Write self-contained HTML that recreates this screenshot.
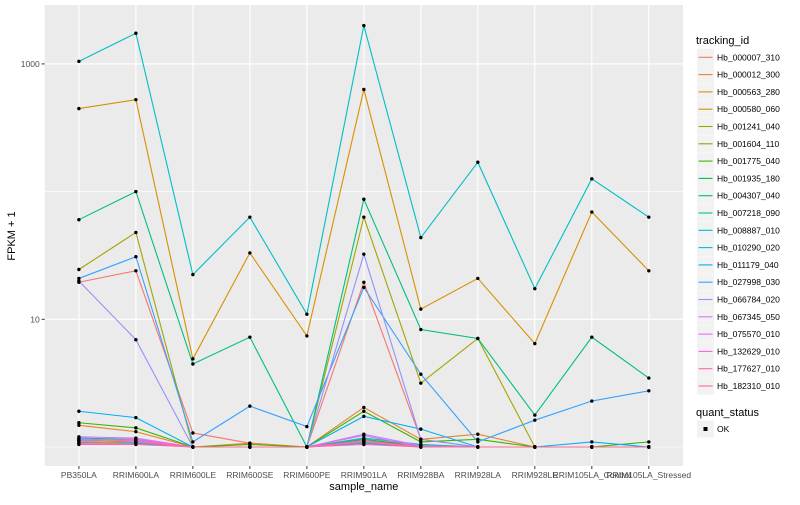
<!DOCTYPE html>
<html><head><meta charset="utf-8"><style>
body{margin:0;background:#fff;}
svg text{font-family:"Liberation Sans",sans-serif;}
</style></head><body>
<svg id="chart" width="800" height="500" xmlns="http://www.w3.org/2000/svg"></svg>
<script>
const categories=["PB350LA","RRIM600LA","RRIM600LE","RRIM600SE","RRIM600PE","RRIM901LA","RRIM928BA","RRIM928LA","RRIM928LE","RRIM105LA_Control","RRIM105LA_Stressed"];
const trackingIds=["Hb_000007_310","Hb_000012_300","Hb_000563_280","Hb_000580_060","Hb_001241_040","Hb_001604_110","Hb_001775_040","Hb_001935_180","Hb_004307_040","Hb_007218_090","Hb_008887_010","Hb_010290_020","Hb_011179_040","Hb_027998_030","Hb_066784_020","Hb_067345_050","Hb_075570_010","Hb_132629_010","Hb_177627_010","Hb_182310_010"];
const colors=["#F8766D","#EA8331","#D89000","#C09B00","#A3A500","#7CAE00","#39B600","#00BB4E","#00BF7D","#00C1A3","#00BFC4","#00BAE0","#00B0F6","#35A2FF","#9590FF","#C77CFF","#E76BF3","#FA62DB","#FF62BC","#FF6C91"];
// log10(FPKM+1) values per series
const s000007=[1.29,1.38,0.11,0.03,0,1.29,0.06,0,0,0,0];
const s000012=[0.17,0.12,0,0.03,0,0.31,0.06,0.10,0,0,0];
const s000563=[2.65,2.72,0.69,1.52,0.87,2.80,1.08,1.32,0.81,1.84,1.38];
const s000580=[0.05,0.04,0,0,0,0.05,0.01,0,0,0,0];
const s001241=[1.39,1.68,0,0,0,1.80,0.50,0.85,0,0,0];
const s001604=[0.03,0.03,0,0,0,0.04,0,0,0,0,0];
const s001775=[0.19,0.15,0,0.02,0,0.28,0.04,0.06,0,0,0.04];
const s001935=[0.06,0.05,0,0,0,0.06,0.01,0,0,0,0];
const s004307=[1.78,2.00,0.65,0.86,0,1.94,0.92,0.85,0.25,0.86,0.54];
const s007218=[0.07,0.06,0,0,0,0.07,0.02,0,0,0,0];
const s008887=[3.02,3.24,1.35,1.80,1.04,3.30,1.64,2.23,1.24,2.10,1.80];
const s010290=[0.04,0.03,0,0,0,0.03,0,0,0,0,0];
const s011179=[0.28,0.23,0,0,0,0.24,0.14,0,0,0.04,0];
const s027998=[1.32,1.49,0.04,0.32,0.16,1.25,0.57,0.04,0.21,0.36,0.44];
const s066784=[1.30,0.84,0,0,0,1.51,0.06,0,0,0,0];
const s067345=[0.08,0.07,0,0,0,0.10,0.01,0,0,0,0];
const s075570=[0.06,0.05,0,0,0,0.09,0,0,0,0,0];
const s132629=[0.05,0.06,0,0,0,0.05,0,0,0,0,0];
const s177627=[0.02,0.02,0,0,0,0.02,0,0,0,0,0];
const s182310=[0.03,0.04,0,0,0,0.04,0,0,0,0,0];
const series=[s000007,s000012,s000563,s000580,s001241,s001604,s001775,s001935,s004307,s007218,s008887,s010290,s011179,s027998,s066784,s067345,s075570,s132629,s177627,s182310];
const yTickVals=[1,3];
const yTickLabels=["10","1000"];
const yMinorVals=[0,2];

const NS="http://www.w3.org/2000/svg";
const svg=document.getElementById('chart');
const P={l:44.7,r:683,t:5,b:466};
const step=(P.r-P.l)/(categories.length-1+1.2);
function xS(i){return P.l+step*(0.6+i);}
function yS(v){return 447-v*127.7;}
function el(tag,attrs,parent){const e=document.createElementNS(NS,tag);for(const k in attrs)e.setAttribute(k,attrs[k]);(parent||svg).appendChild(e);return e;}

const panel=el('rect',{x:P.l,y:P.t,width:P.r-P.l,height:P.b-P.t,fill:'#EBEBEB'});


yMinorVals.forEach(v=>{const g=el('line',{x1:P.l,x2:P.r,y1:yS(v),y2:yS(v),stroke:'#fff','stroke-width':0.6});

});
yTickVals.forEach((v,i)=>{const g=el('line',{x1:P.l,x2:P.r,y1:yS(v),y2:yS(v),stroke:'#fff','stroke-width':1.1});


const tk=el('line',{x1:P.l-3,x2:P.l,y1:yS(v),y2:yS(v),stroke:'#333','stroke-width':1});


const t=el('text',{x:P.l-5,y:yS(v)+3,'text-anchor':'end','font-size':8.5,fill:'#4D4D4D'});t.textContent=yTickLabels[i];

});
categories.forEach((c,i)=>{const g=el('line',{x1:xS(i),x2:xS(i),y1:P.t,y2:P.b,stroke:'#fff','stroke-width':1.1});


const tk=el('line',{x1:xS(i),x2:xS(i),y1:P.b,y2:P.b+3,stroke:'#333','stroke-width':1});


const t=el('text',{x:xS(i),y:P.b+12,'text-anchor':'middle','font-size':8.5,fill:'#4D4D4D'});t.textContent=c;

});
series.forEach((s,k)=>{const pl=el('polyline',{points:s.map((v,i)=>xS(i)+','+yS(v)).join(' '),fill:'none',stroke:colors[k],'stroke-width':1.1});

});
series.forEach((s,k)=>{s.forEach((v,i)=>{const c=el('circle',{cx:xS(i),cy:yS(v),r:1.7,fill:'#000'});

});});
const xt=el('text',{x:(P.l+P.r)/2,y:490,'text-anchor':'middle','font-size':11,fill:'#000'});xt.textContent='sample_name';


const yt=el('text',{x:15,y:236,'text-anchor':'middle','font-size':11,fill:'#000',transform:'rotate(-90 15 236)'});yt.textContent='FPKM + 1';


const lt=el('text',{x:696,y:44,'font-size':11,fill:'#000'});lt.textContent='tracking_id';


trackingIds.forEach((id,k)=>{const cy=57.3+k*17.3;
const g=el('g',{});


el('rect',{x:697,y:cy-8.5,width:17,height:17,fill:'#F2F2F2'},g);
el('line',{x1:698.5,x2:712.5,y1:cy,y2:cy,stroke:colors[k],'stroke-width':1.1},g);
const t=el('text',{x:717,y:cy+3,'font-size':8.5,fill:'#000'},g);t.textContent=id;});
const qt=el('text',{x:696,y:416,'font-size':11,fill:'#000'});qt.textContent='quant_status';


const qg=el('g',{});


el('rect',{x:697,y:420.5,width:17,height:17,fill:'#F2F2F2'},qg);
el('rect',{x:703.5,y:427,width:4,height:4,fill:'#000'},qg);
const ok=el('text',{x:717,y:432,'font-size':8.5,fill:'#000'},qg);ok.textContent='OK';
</script>
</body></html>
